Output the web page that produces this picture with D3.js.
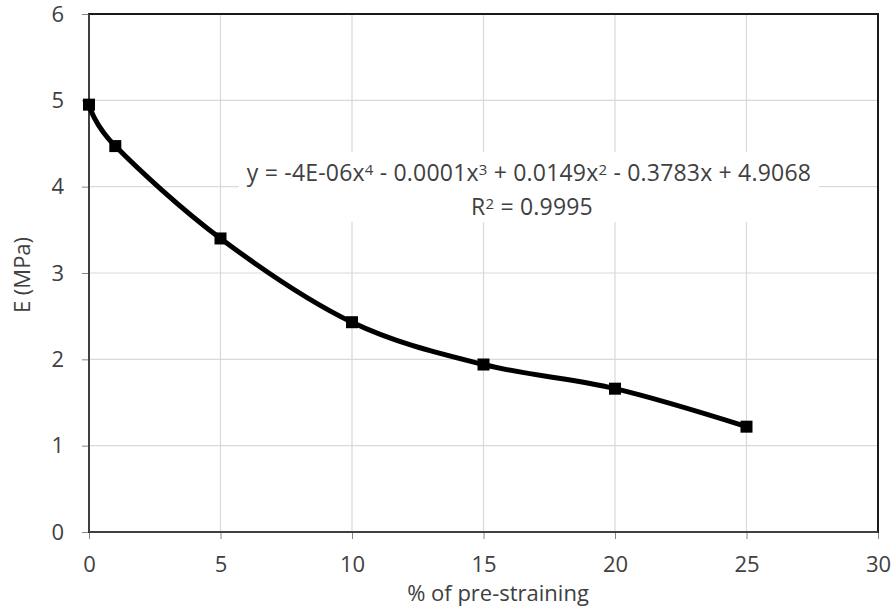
<!DOCTYPE html>
<html>
<head>
<meta charset="utf-8">
<script src="https://cdn.jsdelivr.net/npm/d3@7"></script>
<style>
  html, body { margin: 0; padding: 0; background: #fff; }
  svg { display: block; }
  text { font-family: "Open Sans", "Noto Sans", sans-serif; fill: #404040; }
</style>
</head>
<body>
<svg id="chart" width="893" height="613"></svg>
<script>
// Pre-straining level (%) and elastic modulus E (MPa)
const preStrain = [0, 1, 5, 10, 15, 20, 25];
const modulus = [4.95, 4.47, 3.40, 2.43, 1.94, 1.66, 1.22];

const xTicks = [0, 5, 10, 15, 20, 25, 30];
const yTicks = [0, 1, 2, 3, 4, 5, 6];

// trendline label pieces: plain, superscript, plain, ...
const equationText = ["y = -4E-06x", "4", " - 0.0001x", "3", " + 0.0149x", "2", " - 0.3783x + 4.9068"];
const r2Text = ["R", "2", " = 0.9995"];

const margin = { left: 89, right: 15, top: 14, bottom: 81 };
const W = 893, H = 613;

const svg = d3.select("#chart");

const x = d3.scaleLinear().domain([0, 30]).range([margin.left, W - margin.right]);
const y = d3.scaleLinear().domain([0, 6]).range([H - margin.bottom, margin.top]);

// gridlines
const grid = svg.append("g");
grid.selectAll("line.h").data(yTicks.slice(1, -1)).join("line")
  .attr("x1", x(0)).attr("x2", x(30))
  .attr("y1", d => y(d)).attr("y2", d => y(d))
  .attr("stroke", "#d9d9d9").attr("stroke-width", 1.2);
grid.selectAll("line.v").data(xTicks.slice(1, -1)).join("line")
  .attr("y1", y(0)).attr("y2", y(6))
  .attr("x1", d => x(d)).attr("x2", d => x(d))
  .attr("stroke", "#d9d9d9").attr("stroke-width", 1.2);

// axes
const xAxis = d3.axisBottom(x).tickValues(xTicks).tickSize(7).tickPadding(17).tickFormat(d3.format("d"));
const yAxis = d3.axisLeft(y).tickValues(yTicks).tickSize(7).tickPadding(18).tickFormat(d3.format("d"));

const gx = svg.append("g").attr("transform", `translate(0,${y(0)})`).call(xAxis);
const gy = svg.append("g").attr("transform", `translate(${x(0)},0)`).call(yAxis);
[gx, gy].forEach(g => {
  g.select(".domain").remove();
  g.selectAll(".tick line").attr("stroke", "#868686").attr("stroke-width", 1);
  g.selectAll(".tick text").style("font-size", "22px").attr("fill", "#404040");
});

// plot frame
svg.append("rect")
  .attr("x", x(0)).attr("y", y(6))
  .attr("width", x(30) - x(0)).attr("height", y(0) - y(6))
  .attr("fill", "none").attr("stroke", "#1a1a1a").attr("stroke-width", 2);
svg.append("line")
  .attr("x1", x(0)).attr("x2", x(0)).attr("y1", y(6)).attr("y2", y(0))
  .attr("stroke", "#404040").attr("stroke-width", 2);
svg.append("line")
  .attr("x1", x(0)).attr("x2", x(30)).attr("y1", y(0)).attr("y2", y(0))
  .attr("stroke", "#404040").attr("stroke-width", 2);

// trendline label box (white backing that hides the gridlines)
const labelLayer = svg.append("g");

// smoothed data line
const pts = preStrain.map((d, i) => [d, modulus[i]]);
svg.append("path")
  .datum(pts)
  .attr("fill", "none")
  .attr("stroke", "#000")
  .attr("stroke-width", 5)
  .attr("stroke-linejoin", "round")
  .attr("d", d3.line().x(d => x(d[0])).y(d => y(d[1])).curve(d3.curveCatmullRom.alpha(0)));

// square markers
const ms = 12;
svg.append("g").selectAll("rect").data(pts).join("rect")
  .attr("x", d => x(d[0]) - ms / 2)
  .attr("y", d => y(d[1]) - ms / 2)
  .attr("width", ms).attr("height", ms)
  .attr("fill", "#000");

function richText(parent, parts, tx, ty) {
  const t = parent.append("text")
    .attr("x", tx).attr("y", ty)
    .attr("text-anchor", "middle")
    .style("font-size", "23px")
    .style("letter-spacing", "0.2px");
  parts.forEach((p, i) => {
    const sup = i % 2 === 1;
    t.append("tspan")
      .attr("baseline-shift", sup ? "40%" : null)
      .style("font-size", sup ? "15px" : "23px")
      .text(p);
  });
  return t;
}
const labelBox = labelLayer.append("rect").attr("fill", "#fff");
const eq = richText(labelLayer, equationText, 529, 181);
const r2 = richText(labelLayer, r2Text, 532, 215);
const b1 = eq.node().getBBox(), b2 = r2.node().getBBox();
const bx0 = Math.min(b1.x, b2.x) - 8, bx1 = Math.max(b1.x + b1.width, b2.x + b2.width) + 8;
labelBox.attr("x", bx0).attr("y", 152).attr("width", bx1 - bx0).attr("height", 70);

// axis titles
svg.append("text")
  .attr("x", 498).attr("y", 601)
  .attr("text-anchor", "middle")
  .style("font-size", "22px")
  .text("% of pre-straining");
svg.append("text")
  .attr("transform", `translate(30,${(y(0) + y(6)) / 2 + 2}) rotate(-90)`)
  .attr("text-anchor", "middle")
  .style("font-size", "22px")
  .text("E (MPa)");
</script>
</body>
</html>
